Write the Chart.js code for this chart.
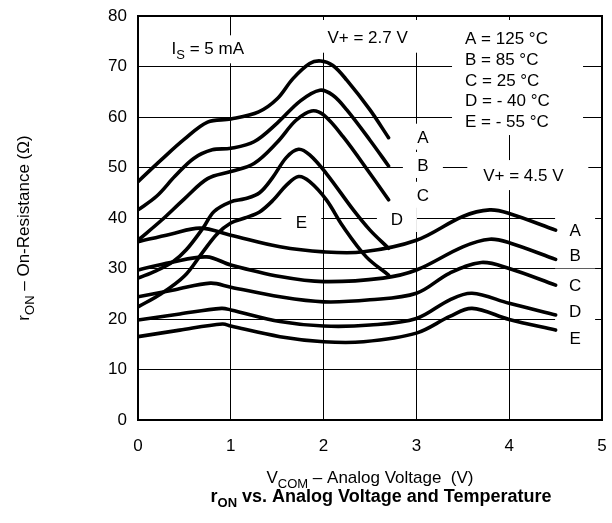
<!DOCTYPE html>
<html>
<head>
<meta charset="utf-8">
<script src="https://cdn.jsdelivr.net/npm/chart.js@4/dist/chart.umd.min.js"></script>
<style>
  html, body { margin: 0; padding: 0; background: #fff; }
  #c { display: block; }
</style>
</head>
<body>
<canvas id="c" width="612" height="523" style="width:612px;height:523px"></canvas>
<script>
// r_ON (ohm) vs V_COM (V), [V, ohm] pairs
// V+ = 2.7 V
const a27 = [[0,47.2],[0.25,51.5],[0.5,55.6],[0.75,59.0],[1.0,59.6],[1.3,61.0],[1.5,63.6],[1.67,67.6],[1.85,70.6],[1.97,71.1],[2.1,70.2],[2.25,67.3],[2.5,61.4],[2.7,55.9]];
const b27 = [[0,41.6],[0.2,44.3],[0.4,48.3],[0.6,51.8],[0.8,53.5],[1.0,53.8],[1.25,55.1],[1.5,58.8],[1.75,63.2],[1.96,65.3],[2.1,64.3],[2.25,61.4],[2.5,55.4],[2.7,50.3]];
const c27 = [[0,35.6],[0.25,39.5],[0.5,43.8],[0.75,47.8],[1.0,49.2],[1.25,50.8],[1.5,55.0],[1.7,59.3],[1.87,61.2],[2.0,60.4],[2.21,56.1],[2.5,48.8],[2.7,43.6]];
const d27 = [[0,28.1],[0.2,29.6],[0.38,31.4],[0.52,33.7],[0.7,38.0],[0.82,41.3],[1.0,43.2],[1.15,43.8],[1.31,45.0],[1.45,48.0],[1.6,52.0],[1.73,53.6],[1.85,52.5],[2.03,48.8],[2.32,41.6],[2.5,37.6],[2.7,34.0]];
const e27 = [[0,22.4],[0.25,25.0],[0.5,28.5],[0.7,33.3],[0.85,36.8],[1.0,39.0],[1.15,40.0],[1.31,41.2],[1.46,43.6],[1.6,46.5],[1.73,48.2],[1.85,47.2],[2.03,43.6],[2.21,38.3],[2.46,32.3],[2.7,28.7]];
// V+ = 4.5 V
const a45 = [[0,35.3],[0.35,36.8],[0.67,38.0],[1.0,36.6],[1.53,34.3],[2.0,33.3],[2.43,33.3],[3.0,35.6],[3.5,40.3],[3.79,41.6],[4.0,40.9],[4.5,37.6]];
const b45 = [[0,29.7],[0.35,31.2],[0.74,32.3],[1.0,30.7],[1.53,28.4],[2.0,27.4],[2.64,28.1],[3.0,29.7],[3.5,34.3],[3.79,35.8],[4.0,35.1],[4.5,31.8]];
const c45 = [[0,24.4],[0.4,25.8],[0.78,27.1],[1.0,26.3],[1.53,24.4],[2.0,23.4],[2.5,23.8],[3.0,25.1],[3.36,29.1],[3.7,31.2],[4.0,30.0],[4.5,26.7]];
const d45 = [[0,19.8],[0.45,21.0],[0.9,22.1],[1.0,21.8],[1.53,19.5],[2.0,18.6],[2.5,18.8],[3.0,20.1],[3.36,23.8],[3.6,25.1],[4.0,23.1],[4.5,20.8]];
const e45 = [[0,16.5],[0.45,17.8],[0.91,19.0],[1.0,18.6],[1.53,16.5],[2.0,15.5],[2.43,15.5],[3.0,17.2],[3.36,20.5],[3.6,22.1],[4.0,19.9],[4.5,17.8]];

const xTicks = [0, 1, 2, 3, 4, 5];
const yTicks = [0, 10, 20, 30, 40, 50, 60, 70, 80];
const legendLines = ['A = 125 °C', 'B = 85 °C', 'C = 25 °C', 'D = - 40 °C', 'E = - 55 °C'];

// where the curve letters sit (data units)
const curveLabels = [
  {t: 'A', x: 3.07, y: 56.1}, {t: 'B', x: 3.07, y: 50.5}, {t: 'C', x: 3.07, y: 44.6},
  {t: 'D', x: 2.79, y: 39.8}, {t: 'E', x: 1.76, y: 39.3},
  {t: 'A', x: 4.71, y: 37.6}, {t: 'B', x: 4.71, y: 32.6}, {t: 'C', x: 4.71, y: 26.7},
  {t: 'D', x: 4.71, y: 21.6}, {t: 'E', x: 4.71, y: 16.2}
];

const FONT = '"Liberation Sans", Arial, Helvetica, sans-serif';
const SIZE = 17;

function font(size, bold) {
  return (bold ? 'bold ' : '') + size + 'px ' + FONT;
}

function richWidth(ctx, parts, size, bold) {
  let w = 0;
  parts.forEach(function (p) {
    ctx.font = font(p.sub ? Math.round(size * 0.74) : size, bold);
    w += ctx.measureText(p.t).width;
  });
  return w;
}

// text with subscripts, baseline at y
function drawRich(ctx, parts, x, y, size, bold, align) {
  const w = richWidth(ctx, parts, size, bold);
  let cx = align === 'center' ? x - w / 2 : (align === 'right' ? x - w : x);
  ctx.textAlign = 'left';
  ctx.textBaseline = 'alphabetic';
  ctx.fillStyle = '#000';
  parts.forEach(function (p) {
    ctx.font = font(p.sub ? Math.round(size * 0.74) : size, bold);
    ctx.fillText(p.t, cx, y + (p.sub ? size * 0.28 : 0));
    cx += ctx.measureText(p.t).width;
  });
  return w;
}

function whiteBox(ctx, x0, y0, x1, y1) {
  ctx.fillStyle = '#fff';
  ctx.fillRect(x0, y0, x1 - x0, y1 - y0);
}

// keep the plot box fixed: no extra room for the edge tick labels
function noEdgePadding(s) {
  s.paddingLeft = 0; s.paddingRight = 0; s.paddingTop = 0; s.paddingBottom = 0;
}

const notes = {
  id: 'notes',
  beforeDatasetsDraw(chart) {
    const ctx = chart.ctx, xs = chart.scales.x, ys = chart.scales.y;
    ctx.save();
    // white boxes knock the grid out behind the labels
    curveLabels.forEach(function (l) {
      const px = xs.getPixelForValue(l.x), py = ys.getPixelForValue(l.y);
      whiteBox(ctx, px - 20, py - 13, px + 20, py + 13);
    });
    let px = xs.getPixelForValue(0.362), py = ys.getPixelForValue(73.6);
    whiteBox(ctx, px - 7, py - 13, px + 84, py + 15);
    px = xs.getPixelForValue(2.474); py = ys.getPixelForValue(75.9);
    whiteBox(ctx, px - 50, 20, px + 54, py + 16);
    px = xs.getPixelForValue(3.524);
    whiteBox(ctx, px - 13, 20, px + 118, ys.getPixelForValue(59.2) + 14);
    px = xs.getPixelForValue(4.152); py = ys.getPixelForValue(48.5);
    whiteBox(ctx, px - 56, py - 15, px + 65, py + 15);
    ctx.restore();
  },
  afterDatasetsDraw(chart) {
    const ctx = chart.ctx, xs = chart.scales.x, ys = chart.scales.y, a = chart.chartArea;
    ctx.save();
    // frame
    ctx.strokeStyle = '#000';
    ctx.lineWidth = 2;
    ctx.strokeRect(a.left, a.top, a.right - a.left, a.bottom - a.top);

    const cap = SIZE * 0.36;
    curveLabels.forEach(function (l) {
      drawRich(ctx, [{t: l.t}], xs.getPixelForValue(l.x), ys.getPixelForValue(l.y) + cap, SIZE, false, 'center');
    });
    drawRich(ctx, [{t: 'I'}, {t: 'S', sub: true}, {t: ' = 5 mA'}],
      xs.getPixelForValue(0.362), ys.getPixelForValue(73.6) + cap, SIZE, false, 'left');
    drawRich(ctx, [{t: 'V+ = 2.7 V'}], xs.getPixelForValue(2.474), ys.getPixelForValue(75.9) + cap, SIZE, false, 'center');
    drawRich(ctx, [{t: 'V+ = 4.5 V'}], xs.getPixelForValue(4.152), ys.getPixelForValue(48.5) + cap, SIZE, false, 'center');
    const rows = [75.6, 71.5, 67.3, 63.3, 59.2];
    legendLines.forEach(function (s, i) {
      drawRich(ctx, [{t: s}], xs.getPixelForValue(3.524), ys.getPixelForValue(rows[i]) + cap, SIZE, false, 'left');
    });

    // axis titles and caption
    drawRich(ctx, [{t: 'V'}, {t: 'COM', sub: true}, {t: ' \u2013 Analog Voltage  (V)'}],
      (a.left + a.right) / 2, 483, SIZE, false, 'center');
    drawRich(ctx, [{t: 'r'}, {t: 'ON', sub: true}, {t: ' vs. Analog Voltage and Temperature'}],
      381, 502, 18, true, 'center');
    ctx.translate(29, 228);
    ctx.rotate(-Math.PI / 2);
    drawRich(ctx, [{t: 'r'}, {t: 'ON', sub: true}, {t: ' \u2013 On-Resistance (\u03A9)'}], 0, 0, SIZE, false, 'center');
    ctx.restore();
  }
};

function series(points) {
  return {
    data: points.map(function (p) { return {x: p[0], y: p[1]}; }),
    borderColor: '#000',
    borderWidth: 3.6,
    borderCapStyle: 'round',
    borderJoinStyle: 'round',
    pointRadius: 0,
    fill: false,
    tension: 0.35
  };
}

const all = [a27, b27, c27, d27, e27, a45, b45, c45, d45, e45];

new Chart(document.getElementById('c'), {
  type: 'line',
  data: { datasets: all.map(series) },
  options: {
    responsive: false,
    animation: false,
    layout: { autoPadding: false, padding: { left: 0, right: 10, top: 16, bottom: 0 } },
    plugins: { legend: { display: false }, tooltip: { enabled: false } },
    scales: {
      x: {
        type: 'linear',
        min: 0, max: 5,
        afterFit(s) { s.height = 103; noEdgePadding(s); },
        afterBuildTicks(s) { s.ticks = xTicks.map(function (v) { return {value: v}; }); },
        grid: { color: '#000', lineWidth: 1, drawTicks: false },
        border: { color: '#000', width: 2 },
        ticks: { color: '#000', font: { family: FONT, size: SIZE }, padding: 16, maxRotation: 0 }
      },
      y: {
        min: 0, max: 80,
        afterFit(s) { s.width = 138; noEdgePadding(s); },
        afterBuildTicks(s) { s.ticks = yTicks.map(function (v) { return {value: v}; }); },
        grid: { color: '#000', lineWidth: 1, drawTicks: false },
        border: { color: '#000', width: 2 },
        ticks: { color: '#000', font: { family: FONT, size: SIZE }, padding: 11 }
      }
    }
  },
  plugins: [notes]
});
</script>
</body>
</html>
